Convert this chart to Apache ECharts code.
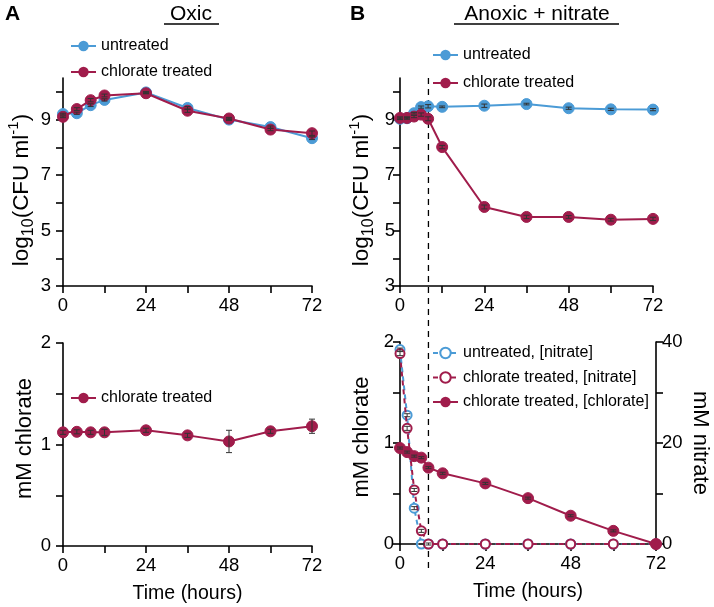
<!DOCTYPE html>
<html><head><meta charset="utf-8">
<script src="https://cdn.jsdelivr.net/npm/echarts@6/dist/echarts.min.js"></script>
<style>html,body{margin:0;padding:0;background:#fff}#c{width:714px;height:607px}</style>
</head><body><div id="c"></div>
<script>
// ---- data ----
const timeOxic = [0, 4, 8, 12, 24, 36, 48, 60, 72];
const oxicUntreated = [9.20, 9.23, 9.52, 9.71, 9.98, 9.42, 9.00, 8.73, 8.33];
const oxicUntreatedErr = [0.03, 0.04, 0.05, 0.04, 0.03, 0.05, 0.03, 0.04, 0.05];
const oxicChlorate = [9.10, 9.38, 9.70, 9.87, 9.95, 9.32, 9.04, 8.64, 8.51];
const oxicChlorateErr = [0.03, 0.05, 0.06, 0.05, 0.02, 0.06, 0.04, 0.04, 0.08];
const oxicChlorateConc = [1.12, 1.125, 1.12, 1.12, 1.14, 1.09, 1.03, 1.13, 1.18];
const oxicChlorateConcErr = [0.02, 0.02, 0.02, 0.03, 0.02, 0.02, 0.11, 0.02, 0.07];

const timeAnoxic = [0, 2, 4, 6, 8, 12, 24, 36, 48, 60, 72];
const anoxUntreated = [9.03, 9.05, 9.23, 9.45, 9.48, 9.46, 9.50, 9.56, 9.41, 9.37, 9.36];
const anoxUntreatedErr = [0.03, 0.03, 0.03, 0.04, 0.06, 0.03, 0.06, 0.03, 0.04, 0.04, 0.04];
const anoxChlorate = [9.06, 9.06, 9.11, 9.18, 9.03, 8.01, 5.85, 5.49, 5.49, 5.39, 5.42];
const anoxChlorateErr = [0.04, 0.04, 0.04, 0.06, 0.07, 0.06, 0.07, 0.06, 0.05, 0.05, 0.06];
const nitrateUntreated = [38.5, 25.5, 7.1, 0, 0, 0, 0, 0, 0, 0, 0];
const nitrateUntreatedErr = [0.3, 0.3, 0.3, 0.1, 0, 0, 0, 0, 0, 0, 0];
const nitrateChlorate = [37.7, 22.9, 10.7, 2.6, 0, 0, 0, 0, 0, 0, 0];
const nitrateChlorateErr = [0.4, 0.4, 0.3, 0.3, 0.2, 0, 0, 0, 0, 0, 0];
const anoxChlorateConc = [0.95, 0.91, 0.87, 0.855, 0.756, 0.70, 0.60, 0.454, 0.28, 0.13, 0];
const anoxChlorateConcErr = [0.01, 0.01, 0.01, 0.01, 0.01, 0.01, 0.01, 0.01, 0.01, 0.01, 0];

const nitrateAddedAt = 8; // dashed reference time (hours)

const timeTicks = [0, 12, 24, 36, 48, 60, 72];
const timeLabels = [0, 24, 48, 72];
const cfuTicks = [3, 4, 5, 6, 7, 8, 9, 10];
const cfuLabels = [3, 5, 7, 9];
const chlorTicks = [0, 0.5, 1, 1.5, 2];
const chlorLabels = [0, 1, 2];
const nitTicks = [0, 10, 20, 30, 40];
const nitLabels = [0, 20, 40];

// ---- style ----
const BLUE = '#4b9bd6';
const RED = '#a01c4b';
const FONT = 'Liberation Sans, Arial, sans-serif';

const pairs = (t, v) => t.map((x, i) => [x, v[i]]);
const errData = (t, v, e) => t.map((x, i) => [x, v[i], e[i]]);

function xAxis(grid, showName) {
  return {
    type: 'value', gridIndex: grid, min: 0, max: 72, interval: 12,
    axisLine: { lineStyle: { color: '#000', width: 1.6 } },
    axisTick: { length: 7, lineStyle: { color: '#000', width: 1.6 }, customValues: timeTicks },
    axisLabel: { color: '#000', fontFamily: FONT, fontSize: 18.5, margin: 10, customValues: timeLabels },
    splitLine: { show: false },
    name: showName ? 'Time (hours)' : '', nameLocation: 'middle', nameGap: 38,
    nameTextStyle: { color: '#000', fontFamily: FONT, fontSize: 19.5 }
  };
}
const supName = {
  a: { fontFamily: FONT, fontSize: 22.5, color: '#000', lineHeight: 30 },
  s: { fontFamily: FONT, fontSize: 16, color: '#000', verticalAlign: 'bottom', lineHeight: 30 },
  p: { fontFamily: FONT, fontSize: 15, color: '#000', verticalAlign: 'top', lineHeight: 30 }
};
function cfuAxis(grid, margin) {
  return {
    type: 'value', gridIndex: grid, min: 3, max: 10.5, interval: 1,
    axisLine: { show: true, lineStyle: { color: '#000', width: 1.6 } },
    axisTick: { show: true, length: 7, lineStyle: { color: '#000', width: 1.6 }, customValues: cfuTicks },
    axisLabel: { color: '#000', fontFamily: FONT, fontSize: 18.5, margin: margin, customValues: cfuLabels },
    splitLine: { show: false },
    name: '{a|log}{s|10}{a|(CFU ml}{p|-1}{a|)}', nameLocation: 'middle', nameGap: 23, nameRotate: 90,
    nameTextStyle: { rich: supName, fontFamily: FONT, fontSize: 22.5, color: '#000', padding: [0, 16, 0, 0] }
  };
}
function chlorAxis(grid, margin) {
  return {
    type: 'value', gridIndex: grid, min: 0, max: 2, interval: 0.5,
    axisLine: { show: true, lineStyle: { color: '#000', width: 1.6 } },
    axisTick: { show: true, length: 7, lineStyle: { color: '#000', width: 1.6 }, customValues: chlorTicks },
    axisLabel: { color: '#000', fontFamily: FONT, fontSize: 18.5, margin: margin, customValues: chlorLabels },
    splitLine: { show: false },
    name: 'mM chlorate', nameLocation: 'middle', nameGap: 27, nameRotate: 90,
    nameTextStyle: { fontFamily: FONT, fontSize: 22, color: '#000', padding: [0, 0, 0, 12] }
  };
}
function errSeries(xi, yi, data, z) {
  return {
    type: 'custom', xAxisIndex: xi, yAxisIndex: yi, z: z || 4, silent: true,
    data: data,
    renderItem: function (params, api) {
      const x = api.value(0), y = api.value(1), e = api.value(2);
      if (!e) return null;
      const top = api.coord([x, y + e]);
      const bot = api.coord([x, y - e]);
      const st = { stroke: '#333', lineWidth: 1 };
      return {
        type: 'group', children: [
          { type: 'line', shape: { x1: top[0], y1: top[1], x2: bot[0], y2: bot[1] }, style: st },
          { type: 'line', shape: { x1: top[0] - 3, y1: top[1], x2: top[0] + 3, y2: top[1] }, style: st },
          { type: 'line', shape: { x1: bot[0] - 3, y1: bot[1], x2: bot[0] + 3, y2: bot[1] }, style: st }
        ]
      };
    }
  };
}
function lineSeries(name, xi, yi, data, color, opts) {
  opts = opts || {};
  return {
    type: 'line', name: name, xAxisIndex: xi, yAxisIndex: yi, data: data,
    symbol: 'circle', symbolSize: opts.open ? 9 : 11,
    itemStyle: opts.open ? { color: '#fff', borderColor: color, borderWidth: 2 } : { color: color, borderColor: color },
    lineStyle: { color: color, width: 2, type: opts.dash ? [5, 4] : 'solid' },
    z: opts.z || 2
  };
}
const legendText = { fontFamily: FONT, fontSize: 16, color: '#000' };
function legend(left, top, names, gap) {
  return {
    left: left, top: top, orient: 'vertical', data: names, itemWidth: 25, itemHeight: 13,
    itemGap: gap, textStyle: legendText, selectedMode: false, padding: 0
  };
}
function title(text, left, top, size, bold) {
  return { text: text, left: left, top: top, textAlign: bold ? 'left' : 'center', padding: 0,
    textStyle: { fontFamily: FONT, fontSize: size, fontWeight: bold ? 'bold' : 'normal', color: '#000' } };
}

const option = {
  animation: false,
  backgroundColor: '#fff',
  title: [
    title('A', 5, 4, 21, true),
    title('B', 350, 4, 21, true),
    title('Oxic', 191, 4, 21, false),
    title('Anoxic + nitrate', 537, 4, 21, false)
  ],
  legend: [
    legend(70, 38, ['untreated', 'chlorate treated'], 10),
    legend(432, 47, ['untreated', 'chlorate treated'], 12),
    legend(70, 390, ['chlorate treated'], 10),
    legend(432, 345, ['untreated, [nitrate]', 'chlorate treated, [nitrate]', 'chlorate treated, [chlorate]'], 8.5)
  ],
  grid: [
    { left: 63, top: 78, width: 249, height: 208 },
    { left: 400, top: 78, width: 253, height: 208 },
    { left: 63, top: 343, width: 249, height: 203 },
    { left: 400, top: 342, width: 256, height: 202 }
  ],
  xAxis: [xAxis(0, false), xAxis(1, false), xAxis(2, true), xAxis(3, true)],
  yAxis: [
    cfuAxis(0, 12), cfuAxis(1, 5), chlorAxis(2, 12), chlorAxis(3, 6),
    {
      type: 'value', gridIndex: 3, position: 'right', min: 0, max: 40, interval: 10,
      axisLine: { show: true, lineStyle: { color: '#000', width: 1.6 } },
      axisTick: { show: true, length: 7, lineStyle: { color: '#000', width: 1.6 }, customValues: nitTicks },
      axisLabel: { color: '#000', fontFamily: FONT, fontSize: 18.5, margin: 6, customValues: nitLabels },
      splitLine: { show: false },
      name: 'mM nitrate', nameLocation: 'middle', nameGap: 33, nameRotate: -90,
      nameTextStyle: { fontFamily: FONT, fontSize: 22, color: '#000' }
    }
  ],
  series: [
    lineSeries('untreated', 0, 0, pairs(timeOxic, oxicUntreated), BLUE),
    lineSeries('chlorate treated', 0, 0, pairs(timeOxic, oxicChlorate), RED, { z: 3 }),
    errSeries(0, 0, errData(timeOxic, oxicUntreated, oxicUntreatedErr)),
    errSeries(0, 0, errData(timeOxic, oxicChlorate, oxicChlorateErr)),

    lineSeries('untreated', 1, 1, pairs(timeAnoxic, anoxUntreated), BLUE),
    lineSeries('chlorate treated', 1, 1, pairs(timeAnoxic, anoxChlorate), RED, { z: 3 }),
    errSeries(1, 1, errData(timeAnoxic, anoxUntreated, anoxUntreatedErr)),
    errSeries(1, 1, errData(timeAnoxic, anoxChlorate, anoxChlorateErr)),

    lineSeries('chlorate treated', 2, 2, pairs(timeOxic, oxicChlorateConc), RED),
    errSeries(2, 2, errData(timeOxic, oxicChlorateConc, oxicChlorateConcErr)),

    lineSeries('untreated, [nitrate]', 3, 4, pairs(timeAnoxic, nitrateUntreated), BLUE, { open: true, dash: true }),
    lineSeries('chlorate treated, [nitrate]', 3, 4, pairs(timeAnoxic, nitrateChlorate), RED, { open: true, dash: true, z: 3 }),
    lineSeries('chlorate treated, [chlorate]', 3, 3, pairs(timeAnoxic, anoxChlorateConc), RED, { z: 3 }),
    errSeries(3, 4, errData(timeAnoxic, nitrateUntreated, nitrateUntreatedErr)),
    errSeries(3, 4, errData(timeAnoxic, nitrateChlorate, nitrateChlorateErr)),
    errSeries(3, 3, errData(timeAnoxic, anoxChlorateConc, anoxChlorateConcErr))
  ]
};

const chart = echarts.init(document.getElementById('c'), null, { renderer: 'canvas' });
chart.setOption(option);

// underline titles and vertical dashed reference line (positions from the library's scales)
const xLine = chart.convertToPixel({ xAxisIndex: 3 }, nitrateAddedAt);
const yTop = chart.convertToPixel({ yAxisIndex: 1 }, 10.5);
const yBottomAxis = chart.convertToPixel({ yAxisIndex: 3 }, 0);
chart.setOption({
  graphic: [
    { type: 'line', shape: { x1: 164, y1: 24, x2: 219, y2: 24 }, style: { stroke: '#000', lineWidth: 1.4 } },
    { type: 'line', shape: { x1: 454, y1: 24, x2: 619, y2: 24 }, style: { stroke: '#000', lineWidth: 1.4 } },
    { type: 'line', z: 1, shape: { x1: xLine, y1: yTop, x2: xLine, y2: yBottomAxis + 29 },
      style: { stroke: '#000', lineWidth: 1.3, lineDash: [6, 5] } }
  ]
});
</script>
</body></html>
